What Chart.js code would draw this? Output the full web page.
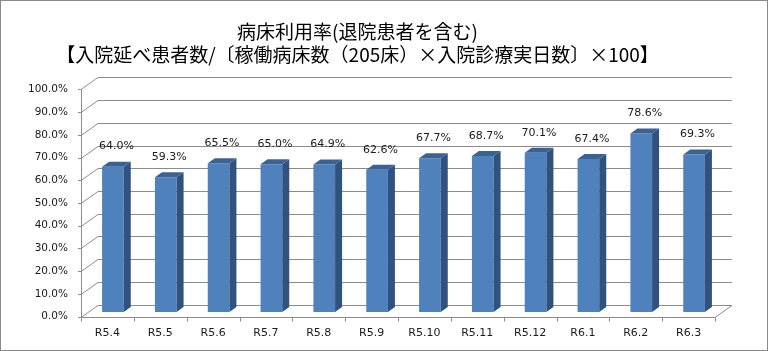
<!DOCTYPE html>
<html>
<head>
<meta charset="utf-8">
<script src="https://cdn.jsdelivr.net/npm/chart.js@4.4.1/dist/chart.umd.min.js"></script>
<style>
  html, body { margin: 0; padding: 0; background: #fff; }
  #wrap { width: 768px; height: 351px; position: relative; }
</style>
</head>
<body>
<div id="wrap"><canvas id="bedChart"></canvas></div>
<script>
// データ
const months = ['R5.4', 'R5.5', 'R5.6', 'R5.7', 'R5.8', 'R5.9', 'R5.10', 'R5.11', 'R5.12', 'R6.1', 'R6.2', 'R6.3'];
const bedRate = [64.0, 59.3, 65.5, 65.0, 64.9, 62.6, 67.7, 68.7, 70.1, 67.4, 78.6, 69.3];
const titleLines = ['病床利用率(退院患者を含む)', '【入院延べ患者数/〔稼働病床数（205床）×入院診療実日数〕×100】'];
const yMin = 0;
const yMax = 100;
const yStep = 10;

// 3D風の奥行き
const wallDx = 17, wallDy = -12;   // 奥の壁
const barDx = 5.5, barDy = -4.5;   // 棒の位置
const depthX = 7, depthY = -5;     // 棒の厚み

const frame3d = {
    id: 'frame3d',
    beforeDraw(chart) {
        const ctx = chart.ctx;
        ctx.save();
        ctx.strokeStyle = '#8a8a8a';
        ctx.lineWidth = 1;
        ctx.strokeRect(0.5, 0.5, chart.width - 1, chart.height - 1);
        ctx.restore();
    },
    beforeDatasetsDraw(chart) {
        const ctx = chart.ctx;
        const a = chart.chartArea;
        const ys = chart.scales.y;
        ctx.save();
        ctx.strokeStyle = '#8c8c8c';
        ctx.lineWidth = 1;
        ctx.beginPath();
        for (let v = yMin; v <= yMax; v += yStep) {
            const py = Math.round(ys.getPixelForValue(v)) + 0.5;
            // 奥の目盛線
            ctx.moveTo(a.left + wallDx, py + wallDy);
            ctx.lineTo(a.right + wallDx, py + wallDy);
            // 左側の斜め線
            ctx.moveTo(a.left, py);
            ctx.lineTo(a.left + wallDx, py + wallDy);
            // 目盛
            ctx.moveTo(a.left - 3, py);
            ctx.lineTo(a.left, py);
        }
        const lx = Math.round(a.left) + 0.5;
        const by = Math.round(ys.getPixelForValue(yMin)) + 0.5;
        const ty = Math.round(ys.getPixelForValue(yMax)) + 0.5;
        ctx.moveTo(lx, ty);
        ctx.lineTo(lx, by);
        // 床
        ctx.moveTo(a.left, by);
        ctx.lineTo(a.right, by);
        ctx.lineTo(a.right + wallDx, by + wallDy);
        // x軸の目盛
        const step = (a.right - a.left) / months.length;
        for (let i = 0; i <= months.length; i++) {
            const px = Math.round(a.left + i * step) + 0.5;
            ctx.moveTo(px, by);
            ctx.lineTo(px, by + 4);
        }
        ctx.stroke();
        ctx.restore();

        ctx.save();
        ctx.translate(barDx, barDy);
    },
    afterDatasetsDraw(chart) {
        const ctx = chart.ctx;
        const meta = chart.getDatasetMeta(0);
        meta.data.forEach((bar, i) => {
            const p = bar.getProps(['x', 'y', 'base', 'width'], true);
            const l = p.x - p.width / 2;
            const r = p.x + p.width / 2;
            // 側面
            ctx.fillStyle = '#30527f';
            ctx.beginPath();
            ctx.moveTo(r, p.y);
            ctx.lineTo(r + depthX, p.y + depthY);
            ctx.lineTo(r + depthX, p.base + depthY);
            ctx.lineTo(r, p.base);
            ctx.closePath();
            ctx.fill();
            // 上面
            ctx.fillStyle = '#3b6295';
            ctx.beginPath();
            ctx.moveTo(l, p.y);
            ctx.lineTo(l + depthX, p.y + depthY);
            ctx.lineTo(r + depthX, p.y + depthY);
            ctx.lineTo(r, p.y);
            ctx.closePath();
            ctx.fill();
            // ラベル
            ctx.fillStyle = '#1a1a1a';
            ctx.font = '11px "DejaVu Sans"';
            ctx.textAlign = 'center';
            ctx.textBaseline = 'middle';
            ctx.fillText(bedRate[i].toFixed(1) + '%', p.x + depthX / 2, p.y + depthY - 15);
        });
        ctx.restore();
    }
};

const ctx = document.getElementById('bedChart').getContext('2d');
const bedChart = new Chart(ctx, {
    type: 'bar',
    data: {
        labels: months,
        datasets: [{
            label: '病床利用率',
            data: bedRate,
            backgroundColor: '#4f81bd',
            borderWidth: 0,
            barPercentage: 0.41,
            categoryPercentage: 1.0
        }]
    },
    options: {
        responsive: true,
        maintainAspectRatio: false,
        animation: false,
        layout: {
            padding: { left: 0, right: 53, top: 0, bottom: 0 }
        },
        scales: {
            x: {
                grid: { display: false, drawTicks: false },
                border: { display: false },
                ticks: {
                    color: '#1a1a1a',
                    font: { family: 'DejaVu Sans', size: 11 },
                    padding: 10,
                    maxRotation: 0
                },
                afterFit(scale) { scale.height = 34.5; }
            },
            y: {
                min: yMin,
                max: yMax,
                grid: { display: false, drawTicks: false },
                border: { display: false },
                ticks: {
                    stepSize: yStep,
                    color: '#1a1a1a',
                    font: { family: 'DejaVu Sans', size: 10.5 },
                    padding: 13,
                    callback: (v) => v.toFixed(1) + '%'
                },
                afterFit(scale) { scale.width = 81; }
            }
        },
        plugins: {
            legend: { display: false },
            tooltip: { enabled: false },
            title: {
                display: true,
                text: titleLines,
                color: '#000',
                font: { family: '"Noto Sans CJK JP"', size: 19, weight: 'normal', lineHeight: 1.22 },
                padding: { top: 20, bottom: 23 }
            }
        }
    },
    plugins: [frame3d]
});
</script>
</body>
</html>
